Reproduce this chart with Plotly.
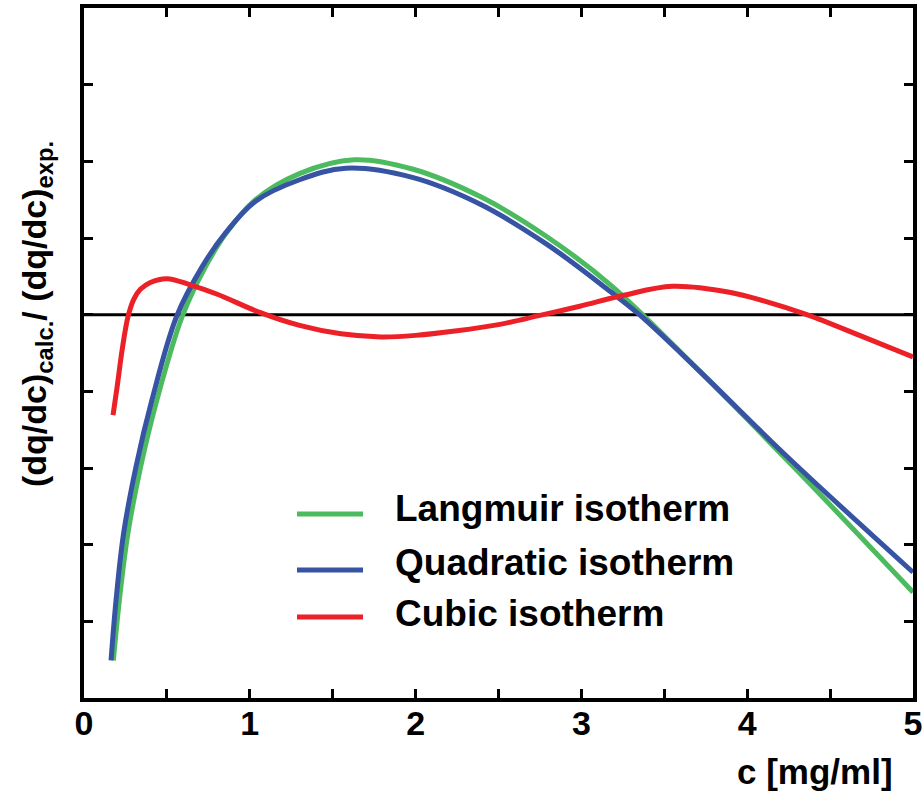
import plotly.graph_objects as go

# ---- data ----
lang_x = [0.177, 0.213, 0.265, 0.342, 0.440, 0.593, 0.734, 0.860, 1.035, 1.30, 1.63, 1.98, 2.39, 2.79, 3.18, 3.70, 4.30, 5.00]
lang_y = [0.549, 0.627, 0.715, 0.802, 0.889, 0.998, 1.063, 1.107, 1.150, 1.184, 1.202, 1.190, 1.154, 1.102, 1.038, 0.929, 0.797, 0.638]

quad_x = [0.163, 0.193, 0.239, 0.314, 0.410, 0.559, 0.714, 0.855, 1.035, 1.30, 1.58, 1.98, 2.39, 2.79, 3.17, 3.35, 3.70, 4.24, 5.00]
quad_y = [0.549, 0.627, 0.715, 0.802, 0.889, 0.998, 1.063, 1.107, 1.148, 1.176, 1.191, 1.179, 1.144, 1.092, 1.031, 1.000, 0.929, 0.815, 0.664]

cub_x = [0.175, 0.20, 0.23, 0.265, 0.30, 0.34, 0.40, 0.50, 0.64, 0.80, 1.06, 1.30, 1.55, 1.79, 2.00, 2.25, 2.50, 2.75, 2.99, 3.25, 3.55, 3.90, 4.10, 4.36, 4.70, 5.00]
cub_y = [0.869, 0.906, 0.954, 0.997, 1.020, 1.033, 1.042, 1.047, 1.039, 1.027, 1.003, 0.986, 0.975, 0.971, 0.973, 0.979, 0.987, 0.999, 1.011, 1.025, 1.037, 1.029, 1.018, 1.000, 0.971, 0.945]

ref_x = [0, 5]
ref_y = [1, 1]

x_tickvals = [0, 0.5, 1, 1.5, 2, 2.5, 3, 3.5, 4, 4.5, 5]
x_ticktext = ["0", "", "1", "", "2", "", "3", "", "4", "", "5"]
y_tickvals = [0.5, 0.6, 0.7, 0.8, 0.9, 1.0, 1.1, 1.2, 1.3, 1.4]

series_names = ["Langmuir isotherm", "Quadratic isotherm", "Cubic isotherm"]
series_colors = ["#4cbb5f", "#3653a4", "#ec2027"]

FONT = "Liberation Sans, Arial, sans-serif"

fig = go.Figure()
fig.add_trace(go.Scatter(x=ref_x, y=ref_y, mode="lines", line=dict(color="black", width=3), showlegend=False))
for xs, ys, name, col in [(lang_x, lang_y, series_names[0], series_colors[0]),
                          (quad_x, quad_y, series_names[1], series_colors[1]),
                          (cub_x, cub_y, series_names[2], series_colors[2])]:
    fig.add_trace(go.Scatter(x=xs, y=ys, mode="lines", name=name, showlegend=False,
                             line=dict(color=col, width=5, shape="spline", smoothing=1.0)))

L, R, T, B = 84, 9, 8, 98
W, H = 922, 796
pw, ph = W - L - R, H - T - B

def px2paper(px, py):
    return (px - L) / pw, (H - B - py) / ph

shapes = []
annotations = []
legend_rows = [(514, 508), (570, 562), (617, 613)]
for (ly, ty), name, col in zip(legend_rows, series_names, series_colors):
    x0, y0 = px2paper(297, ly)
    x1, _ = px2paper(363, ly)
    shapes.append(dict(type="line", xref="paper", yref="paper", x0=x0, x1=x1, y0=y0, y1=y0,
                       line=dict(color=col, width=5)))
    tx, tyy = px2paper(393, ty)
    annotations.append(dict(xref="paper", yref="paper", x=tx, y=tyy, xanchor="left", yanchor="middle",
                            text=name, showarrow=False,
                            font=dict(family=FONT, size=37, color="black", weight="bold")))

ax, ay = px2paper(895, 772)
annotations.append(dict(xref="paper", yref="paper", x=ax, y=ay, xanchor="right", yanchor="middle",
                        text="c [mg/ml]", showarrow=False,
                        font=dict(family=FONT, size=35, color="black", weight="bold")))
yx, yy = px2paper(36, 314)
annotations.append(dict(xref="paper", yref="paper", x=yx, y=yy, xanchor="center", yanchor="middle",
                        text="(dq/dc)<sub>calc.</sub>/ (dq/dc)<sub>exp.</sub>", textangle=-90, showarrow=False,
                        font=dict(family=FONT, size=34, color="black", weight="bold")))

axis_common = dict(showline=True, linewidth=4, linecolor="black", mirror="ticks",
                   ticks="inside", ticklen=9, tickwidth=3, tickcolor="black",
                   showgrid=False, zeroline=False, automargin=False)

fig.update_layout(
    width=W, height=H,
    margin=dict(l=L, r=R, t=T, b=B, autoexpand=False),
    paper_bgcolor="white", plot_bgcolor="white",
    xaxis=dict(range=[0, 5], tickmode="array", tickvals=x_tickvals, ticktext=x_ticktext,
               ticklabeloverflow="allow", ticklabelstandoff=-8,
               tickfont=dict(family=FONT, size=34, color="black", weight="bold"), **axis_common),
    yaxis=dict(range=[0.5, 1.4], tickmode="array", tickvals=y_tickvals, ticktext=[""] * len(y_tickvals),
               **axis_common),
    shapes=shapes,
    annotations=annotations,
    showlegend=False,
)

fig.write_html("out.html", config={"displayModeBar": False},
               post_script="document.body.style.margin='0';document.body.style.padding='0';")
